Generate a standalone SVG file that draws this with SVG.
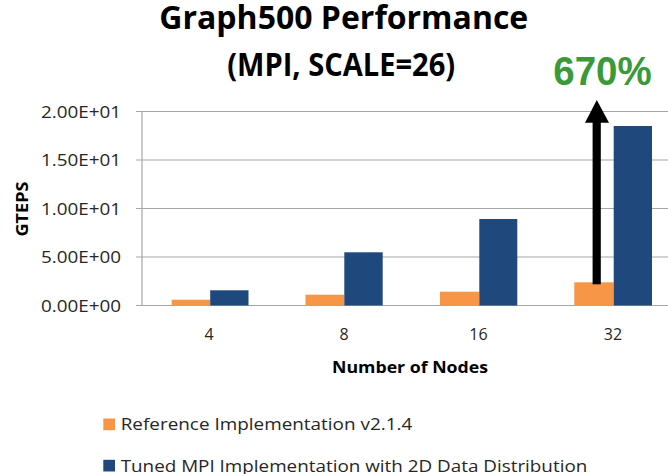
<svg xmlns="http://www.w3.org/2000/svg" width="668" height="474" viewBox="0 0 668 474">
  <style>
    .title { font-family: "Open Sans", "Liberation Sans", sans-serif; font-weight: bold; font-size: 31.5px; fill: #000000; }
    .tick { font-family: "Open Sans", "Liberation Sans", sans-serif; font-size: 16px; fill: #262626; }
    .axis-title { font-family: "Open Sans", "Liberation Sans", sans-serif; font-weight: bold; font-size: 16px; fill: #000000; }
    .legend { font-family: "Open Sans", "Liberation Sans", sans-serif; font-size: 17px; fill: #262626; }
    .pct { font-family: "Liberation Sans", "Open Sans", sans-serif; font-weight: bold; font-size: 40.5px; fill: #3A9A3A; }
    .grid { stroke: #A6A6A6; stroke-width: 1.2; }
    .ref { fill: #F79646; }
    .tuned { fill: #1F497D; }
  </style>

  <rect width="668" height="474" fill="#ffffff"/>

  <!-- Title -->
  <g id="title">
    <text class="title" x="343.8" y="29.3" text-anchor="middle" textLength="369" lengthAdjust="spacingAndGlyphs">Graph500 Performance</text>
    <text class="title" x="341.2" y="76" text-anchor="middle" textLength="228" lengthAdjust="spacingAndGlyphs">(MPI, SCALE=26)</text>
  </g>

  <!-- Gridlines and axes -->
  <g id="axes">
    <line class="grid" x1="136" y1="111.5" x2="668" y2="111.5"/>
    <line class="grid" x1="136" y1="160" x2="668" y2="160"/>
    <line class="grid" x1="136" y1="208.5" x2="668" y2="208.5"/>
    <line class="grid" x1="136" y1="257" x2="668" y2="257"/>
    <line class="grid" x1="136" y1="305.5" x2="668" y2="305.5"/>
    <line class="grid" x1="142" y1="111.5" x2="142" y2="305.5"/>
  </g>

  <!-- Y tick labels -->
  <g id="y-ticks">
    <text class="tick" x="121" y="117.5" text-anchor="end" textLength="80" lengthAdjust="spacingAndGlyphs">2.00E+01</text>
    <text class="tick" x="121" y="166" text-anchor="end" textLength="80" lengthAdjust="spacingAndGlyphs">1.50E+01</text>
    <text class="tick" x="121" y="214.5" text-anchor="end" textLength="80" lengthAdjust="spacingAndGlyphs">1.00E+01</text>
    <text class="tick" x="121" y="263" text-anchor="end" textLength="80" lengthAdjust="spacingAndGlyphs">5.00E+00</text>
    <text class="tick" x="121" y="311.5" text-anchor="end" textLength="80" lengthAdjust="spacingAndGlyphs">0.00E+00</text>
  </g>

  <g id="y-title">
    <text class="axis-title" transform="translate(27.5,209) rotate(-90)" text-anchor="middle" textLength="55" lengthAdjust="spacingAndGlyphs">GTEPS</text>
  </g>

  <!-- Bars -->
  <g id="bars-4">
    <rect class="ref" x="171.7" y="299.7" width="38.5" height="5.8"/>
    <rect class="tuned" x="210.2" y="290.3" width="38.3" height="15.2"/>
  </g>
  <g id="bars-8">
    <rect class="ref" x="305.5" y="294.7" width="38.8" height="10.8"/>
    <rect class="tuned" x="344.3" y="252.3" width="38.4" height="53.2"/>
  </g>
  <g id="bars-16">
    <rect class="ref" x="440" y="291.7" width="39.3" height="13.8"/>
    <rect class="tuned" x="479.3" y="219" width="38" height="86.5"/>
  </g>
  <g id="bars-32">
    <rect class="ref" x="574.3" y="282.3" width="39.4" height="23.2"/>
    <rect class="tuned" x="613.7" y="126" width="38.3" height="179.5"/>
  </g>

  <!-- X tick labels -->
  <g id="x-ticks">
    <text class="tick" x="209" y="340" text-anchor="middle" font-size="17">4</text>
    <text class="tick" x="344" y="340" text-anchor="middle" font-size="17">8</text>
    <text class="tick" x="478.5" y="340" text-anchor="middle" font-size="17">16</text>
    <text class="tick" x="613" y="340" text-anchor="middle" font-size="17">32</text>
  </g>

  <g id="x-title">
    <text class="axis-title" x="410" y="372.5" text-anchor="middle" textLength="156" lengthAdjust="spacingAndGlyphs">Number of Nodes</text>
  </g>

  <!-- Improvement arrow -->
  <g id="connectors">
    <rect x="592.6" y="120" width="8.2" height="164.3" fill="#000000"/>
    <polygon points="585,122.7 596.8,100 609,122.7" fill="#000000"/>
  </g>

  <g id="improvement-label">
    <text class="pct" x="602.5" y="85" text-anchor="middle" textLength="98.4" lengthAdjust="spacingAndGlyphs">670%</text>
  </g>

  <!-- Legend -->
  <g id="legend-ref">
    <rect class="ref" x="103.3" y="418.5" width="11.7" height="11.7"/>
    <text class="legend" x="120.7" y="430.2" textLength="291.6" lengthAdjust="spacingAndGlyphs">Reference Implementation v2.1.4</text>
  </g>
  <g id="legend-tuned">
    <rect class="tuned" x="103.3" y="459.8" width="11.7" height="11.7"/>
    <text class="legend" x="120.7" y="471.5" textLength="466.6" lengthAdjust="spacingAndGlyphs">Tuned MPI Implementation with 2D Data Distribution</text>
  </g>
</svg>
